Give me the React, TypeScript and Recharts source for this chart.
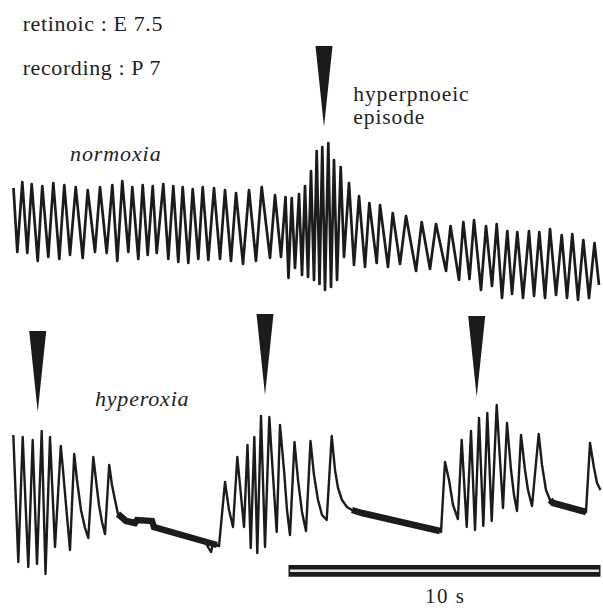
import { ComposedChart, Line, XAxis, YAxis, ReferenceArea, ReferenceLine, ReferenceDot } from "recharts";

// time in seconds, level in arbitrary units
const normoxiaTime = [
  0.016, 0.138, 0.298, 0.458, 0.599, 0.792, 0.939, 1.131, 1.292, 1.484,
  1.644, 1.827, 2.01, 2.234, 2.394, 2.628, 2.788, 3.003, 3.183, 3.343,
  3.503, 3.696, 3.824, 4.016, 4.157, 4.317, 4.478, 4.606, 4.817, 4.978,
  5.138, 5.298, 5.439, 5.619, 5.76, 5.939, 6.08, 6.26, 6.442, 6.635,
  6.795, 6.987, 7.147, 7.372, 7.564, 7.788, 7.971, 8.237, 8.397, 8.59,
  8.734, 8.83, 8.933, 9.038, 9.167, 9.263, 9.359, 9.455, 9.551, 9.647,
  9.734, 9.824, 9.913, 10.0, 10.106, 10.192, 10.288, 10.385, 10.503, 10.609,
  10.769, 10.929, 11.09, 11.282, 11.42, 11.657, 11.763, 12.019, 12.17, 12.404,
  12.596, 12.917, 13.099, 13.365, 13.558, 13.878, 14.022, 14.295, 14.433, 14.631,
  14.776, 15.0, 15.16, 15.353, 15.503, 15.673, 15.843, 15.994, 16.163, 16.346,
  16.538, 16.699, 16.869, 17.051, 17.212, 17.404, 17.587, 17.756, 17.926, 18.109,
  18.279, 18.462, 18.638, 18.782,
];
const normoxiaLevel = [
  11.2, 4.8, 11.8, 4.7, 11.6, 3.9, 11.4, 4.3, 11.7, 4.1,
  11.5, 4.5, 11.3, 4.2, 11.0, 4.8, 11.3, 4.7, 11.5, 3.9,
  11.9, 4.8, 11.3, 4.1, 11.5, 4.5, 11.4, 4.7, 11.6, 4.1,
  11.4, 3.8, 11.3, 3.7, 11.1, 4.1, 11.3, 4.0, 11.2, 4.1,
  11.0, 3.9, 10.7, 3.6, 11.0, 3.9, 11.3, 4.2, 10.5, 4.3,
  10.3, 2.2, 10.2, 3.2, 10.6, 2.5, 11.4, 2.3, 12.9, 2.0,
  14.9, 1.6, 15.3, 1.0, 15.7, 1.3, 14.0, 2.0, 13.3, 4.3,
  11.7, 3.5, 10.4, 3.3, 9.7, 3.7, 9.5, 3.3, 8.7, 3.6,
  8.4, 2.9, 7.8, 3.1, 7.6, 2.9, 7.4, 2.0, 7.8, 2.1,
  8.0, 1.0, 7.4, 1.4, 7.6, 0.2, 6.9, 0.6, 6.8, 0.2,
  6.9, 0.4, 6.8, 0.2, 7.1, 0.5, 6.5, 0.2, 6.6, 0.0,
  6.0, 0.2, 5.7, 1.5,
];

const hyperoxiaTime = [
  0.01, 0.17, 0.311, 0.49, 0.631, 0.769, 0.92, 1.042, 1.186, 1.346,
  1.532, 1.603, 1.699, 1.827, 1.962, 2.051, 2.179, 2.308, 2.413, 2.574,
  2.66, 2.756, 2.853, 2.949, 3.083, 3.173, 3.269, 3.365, 3.622, 3.91,
  3.974, 4.455, 4.519, 6.154, 6.346, 6.41, 6.603,
  6.795, 6.923, 7.051, 7.189, 7.404, 7.516, 7.619, 7.734, 7.83, 7.949,
  8.077, 8.215, 8.301, 8.452, 8.558, 8.686, 8.782, 8.878, 9.022, 9.135,
  9.263, 9.391, 9.535, 9.647, 9.776, 9.904, 10.054, 10.215, 10.321, 10.417,
  10.545, 10.705, 10.865, 11.186, 13.686,
  13.718, 13.846, 13.974, 14.103, 14.26, 14.381, 14.542, 14.679, 14.808, 14.936,
  15.074, 15.202, 15.343, 15.503, 15.609, 15.705, 15.833, 15.962, 16.058, 16.154,
  16.282, 16.41, 16.506, 16.635, 16.849, 16.955, 17.083, 17.212, 17.308, 18.365,
  18.494, 18.622, 18.718, 18.83,
];
const hyperoxiaLevel = [
  14.5, 1.8, 14.3, 1.3, 14.0, 1.6, 14.9, 0.6, 14.3, 3.3,
  13.4, 11.0, 7.5, 3.0, 12.6, 10.0, 7.0, 5.2, 4.2, 12.3,
  10.0, 7.5, 5.8, 4.6, 11.5, 9.5, 8.0, 6.6, 5.9, 5.7,
  6.0, 5.9, 5.3, 3.8, 2.8, 3.6, 3.4,
  9.8, 7.0, 5.3, 12.3, 5.3, 13.5, 3.2, 14.3, 2.7, 16.4,
  3.3, 16.3, 12.0, 4.8, 15.5, 11.0, 7.0, 4.5, 13.8, 10.0,
  6.8, 4.9, 13.9, 10.5, 8.0, 6.5, 6.0, 14.4, 11.0, 9.2,
  8.0, 7.3, 7.0, 6.7, 4.9,
  4.8, 11.8, 10.0, 7.5, 6.1, 14.0, 5.3, 14.9, 5.0, 16.2,
  5.4, 16.7, 5.9, 17.5, 12.0, 7.2, 15.7, 11.0, 8.5, 6.9,
  14.5, 11.0, 9.0, 7.4, 14.6, 11.5, 9.0, 8.0, 7.7, 6.8,
  13.7, 11.2, 9.7, 9.0,
];

// flat, noisy stretches between the bursts (apnoea plateaus)
const plateauTimes = [
  [3.365, 3.622, 3.91, 3.974, 4.455, 4.519, 6.538],
  [10.865, 11.186, 13.686],
  [17.212, 17.308, 18.365],
];
const plateauLevels = [
  [6.6, 5.9, 5.7, 6.0, 5.9, 5.3, 3.5],
  [7.0, 6.7, 4.9],
  [8.0, 7.7, 6.8],
];

// arrowheads marking the hyperpnoeic episodes
const normoxiaArrowTime = [9.968];
const normoxiaArrowLevel = [17.3];
const hyperoxiaArrowTime = [0.792, 8.077, 14.862];
const hyperoxiaArrowLevel = [16.8, 18.5, 18.3];

const scaleBarStart = 8.83;
const scaleBarSeconds = 10;

const zip = (ts: number[], vs: number[]) => ts.map((t, i) => ({ t, v: vs[i] }));

const normoxiaData = zip(normoxiaTime, normoxiaLevel);
const hyperoxiaData = zip(hyperoxiaTime, hyperoxiaLevel);
const plateauData = plateauTimes.map((ts, i) => zip(ts, plateauLevels[i]));
const normoxiaArrows = zip(normoxiaArrowTime, normoxiaArrowLevel);
const hyperoxiaArrows = zip(hyperoxiaArrowTime, hyperoxiaArrowLevel);

const INK = "#1b1b1b";

const Wedge = (props: any) => {
  const { cx, cy } = props;
  return (
    <path
      d={`M${cx - 8.5},${cy - 81} L${cx + 8.5},${cy - 81} L${cx},${cy} Z`}
      fill={INK}
    />
  );
};

// text label placed by its baseline
const Label = ({ x, base, size, spacing, italic, children }: any) => (
  <div
    style={{
      position: "absolute",
      left: x,
      top: base - 0.8375 * size,
      fontFamily: '"Liberation Serif", "Times New Roman", serif',
      fontSize: size,
      lineHeight: 1,
      letterSpacing: spacing,
      fontStyle: italic ? "italic" : "normal",
      whiteSpace: "nowrap",
      color: "#222",
    }}
  >
    {children}
  </div>
);

export default function App() {
  return (
    <div style={{ position: "absolute", left: 0, top: 0, width: 603, height: 608, background: "#fff" }}>
      <ComposedChart width={603} height={608} margin={{ top: 0, right: 0, bottom: 0, left: 0 }}>
        <XAxis type="number" dataKey="t" domain={[-0.4167, 18.91]} allowDataOverflow hide />
        <YAxis yAxisId="top" type="number" domain={[-30.8, 30]} allowDataOverflow hide />
        <YAxis yAxisId="bottom" type="number" domain={[-2.8, 58]} allowDataOverflow hide />

        {/* normoxia trace */}
        <Line
          yAxisId="top"
          data={normoxiaData}
          dataKey="v"
          type="linear"
          stroke={INK}
          strokeWidth={2.7}
          strokeLinejoin="round"
          dot={false}
          activeDot={false}
          isAnimationActive={false}
        />

        {/* hyperoxia trace */}
        <Line
          yAxisId="bottom"
          data={hyperoxiaData}
          dataKey="v"
          type="linear"
          stroke={INK}
          strokeWidth={2.4}
          strokeLinejoin="round"
          dot={false}
          activeDot={false}
          isAnimationActive={false}
        />
        {plateauData.map((d, i) => (
          <Line
            key={i}
            yAxisId="bottom"
            data={d}
            dataKey="v"
            type="linear"
            stroke={INK}
            strokeWidth={6.5}
            strokeLinecap="butt"
            dot={false}
            activeDot={false}
            isAnimationActive={false}
          />
        ))}

        {normoxiaArrows.map((a, i) => (
          <ReferenceDot key={`n${i}`} yAxisId="top" x={a.t} y={a.v} shape={Wedge} />
        ))}
        {hyperoxiaArrows.map((a, i) => (
          <ReferenceDot key={`h${i}`} yAxisId="bottom" x={a.t} y={a.v} shape={Wedge} />
        ))}

        {/* 10 s scale bar */}
        <ReferenceArea
          yAxisId="bottom"
          x1={scaleBarStart}
          x2={scaleBarStart + scaleBarSeconds}
          y1={0.33}
          y2={1.5}
          fill={INK}
          fillOpacity={1}
          stroke="none"
        />
        <ReferenceLine
          yAxisId="bottom"
          segment={[
            { x: scaleBarStart + 0.05, y: 0.92 },
            { x: scaleBarStart + scaleBarSeconds - 0.05, y: 0.92 },
          ]}
          stroke="#e4e4e4"
          strokeWidth={2.5}
        />
      </ComposedChart>

      <Label x={22.7} base={31.7} size={22} spacing={0.6}>retinoic : E 7.5</Label>
      <Label x={22.7} base={75} size={22} spacing={0.6}>recording : P 7</Label>
      <Label x={353.3} base={102.5} size={21.5} spacing={0.9}>hyperpnoeic</Label>
      <Label x={353.3} base={125.3} size={21.5} spacing={0.9}>episode</Label>
      <Label x={70} base={161.7} size={22} spacing={0.9} italic>normoxia</Label>
      <Label x={95} base={406} size={22} spacing={0.8} italic>hyperoxia</Label>
      <Label x={425} base={604} size={21} spacing={1.5}>10 s</Label>
    </div>
  );
}
